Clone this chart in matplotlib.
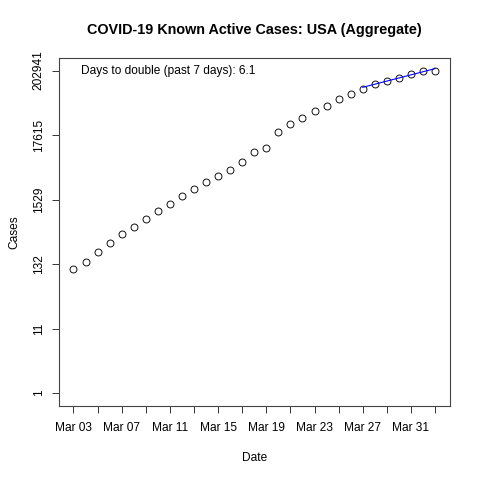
import numpy as np
import pandas as pd
import matplotlib
matplotlib.use("Agg")
import matplotlib.pyplot as plt

plt.rcParams['font.family'] = ['Liberation Sans', 'DejaVu Sans']

# Active cases, USA aggregate, Mar 03 - Apr 02
dates = pd.date_range("2020-03-03", "2020-04-02", freq="D")
cases = [110, 142, 213, 300, 407, 544, 729, 988, 1275, 1728,
         2254, 3011, 3741, 4700, 6370, 9310, 10970, 19710, 26320, 33970,
         43840, 53600, 68100, 84600, 102300, 122400, 137100, 155500, 181100, 199000,
         202941]
doubling_days = "6.1"
fit_days = 7

day = np.arange(len(dates))
logc = np.log10(cases)

fig = plt.figure(figsize=(4.8, 4.8), dpi=100)
ax = fig.add_axes([0.1229, 0.1542, 0.8136, 0.7258])

ax.plot(day, cases, 'o', mfc='none', mec='black', ms=5.0, mew=0.65)

# regression line over the last 7 days
xf = day[-fit_days:]
b, a = np.polyfit(xf, logc[-fit_days:], 1)
ax.plot(xf, 10 ** (a + b * xf), color='blue', lw=0.8)

ax.set_yscale('log')
top = np.log10(max(cases))
pad = 0.04 * top
ax.set_ylim(10 ** -pad, 10 ** (top + pad))
yt = [10 ** (k * top / 5) for k in range(6)]
ax.set_yticks(yt)
ax.set_yticklabels([str(int(v + 1e-6)) for v in yt], rotation=90, va='center')
ax.minorticks_off()

xpad = 0.04 * (day[-1] - day[0])
ax.set_xlim(day[0] - xpad, day[-1] + xpad)
xt = day[::2]
ax.set_xticks(xt)
ax.set_xticklabels([dates[i].strftime("%b %d") if j % 2 == 0 else ""
                    for j, i in enumerate(xt)])

ax.tick_params(length=5.2, width=0.7, labelsize=8.6, color='#333333')
ax.tick_params(axis='x', pad=6)
ax.tick_params(axis='y', pad=5)
for s in ax.spines.values():
    s.set_linewidth(0.8)
    s.set_color('#444444')

ax.set_xlabel("Date", fontsize=8.6, labelpad=13)
ax.set_ylabel("Cases", fontsize=8.6, labelpad=9)
# title centred over the plot region, like R does
fig.text(0.1229 + 0.8136 / 2, 1 - 30 / 480, "COVID-19 Known Active Cases: USA (Aggregate)",
         fontsize=10.4, fontweight='bold', ha='center', va='center')

ax.text(day[0] + 0.6, max(cases), "Days to double (past 7 days): " + doubling_days,
        fontsize=8.6, va='center', ha='left')

fig.savefig("out.png", dpi=100)
